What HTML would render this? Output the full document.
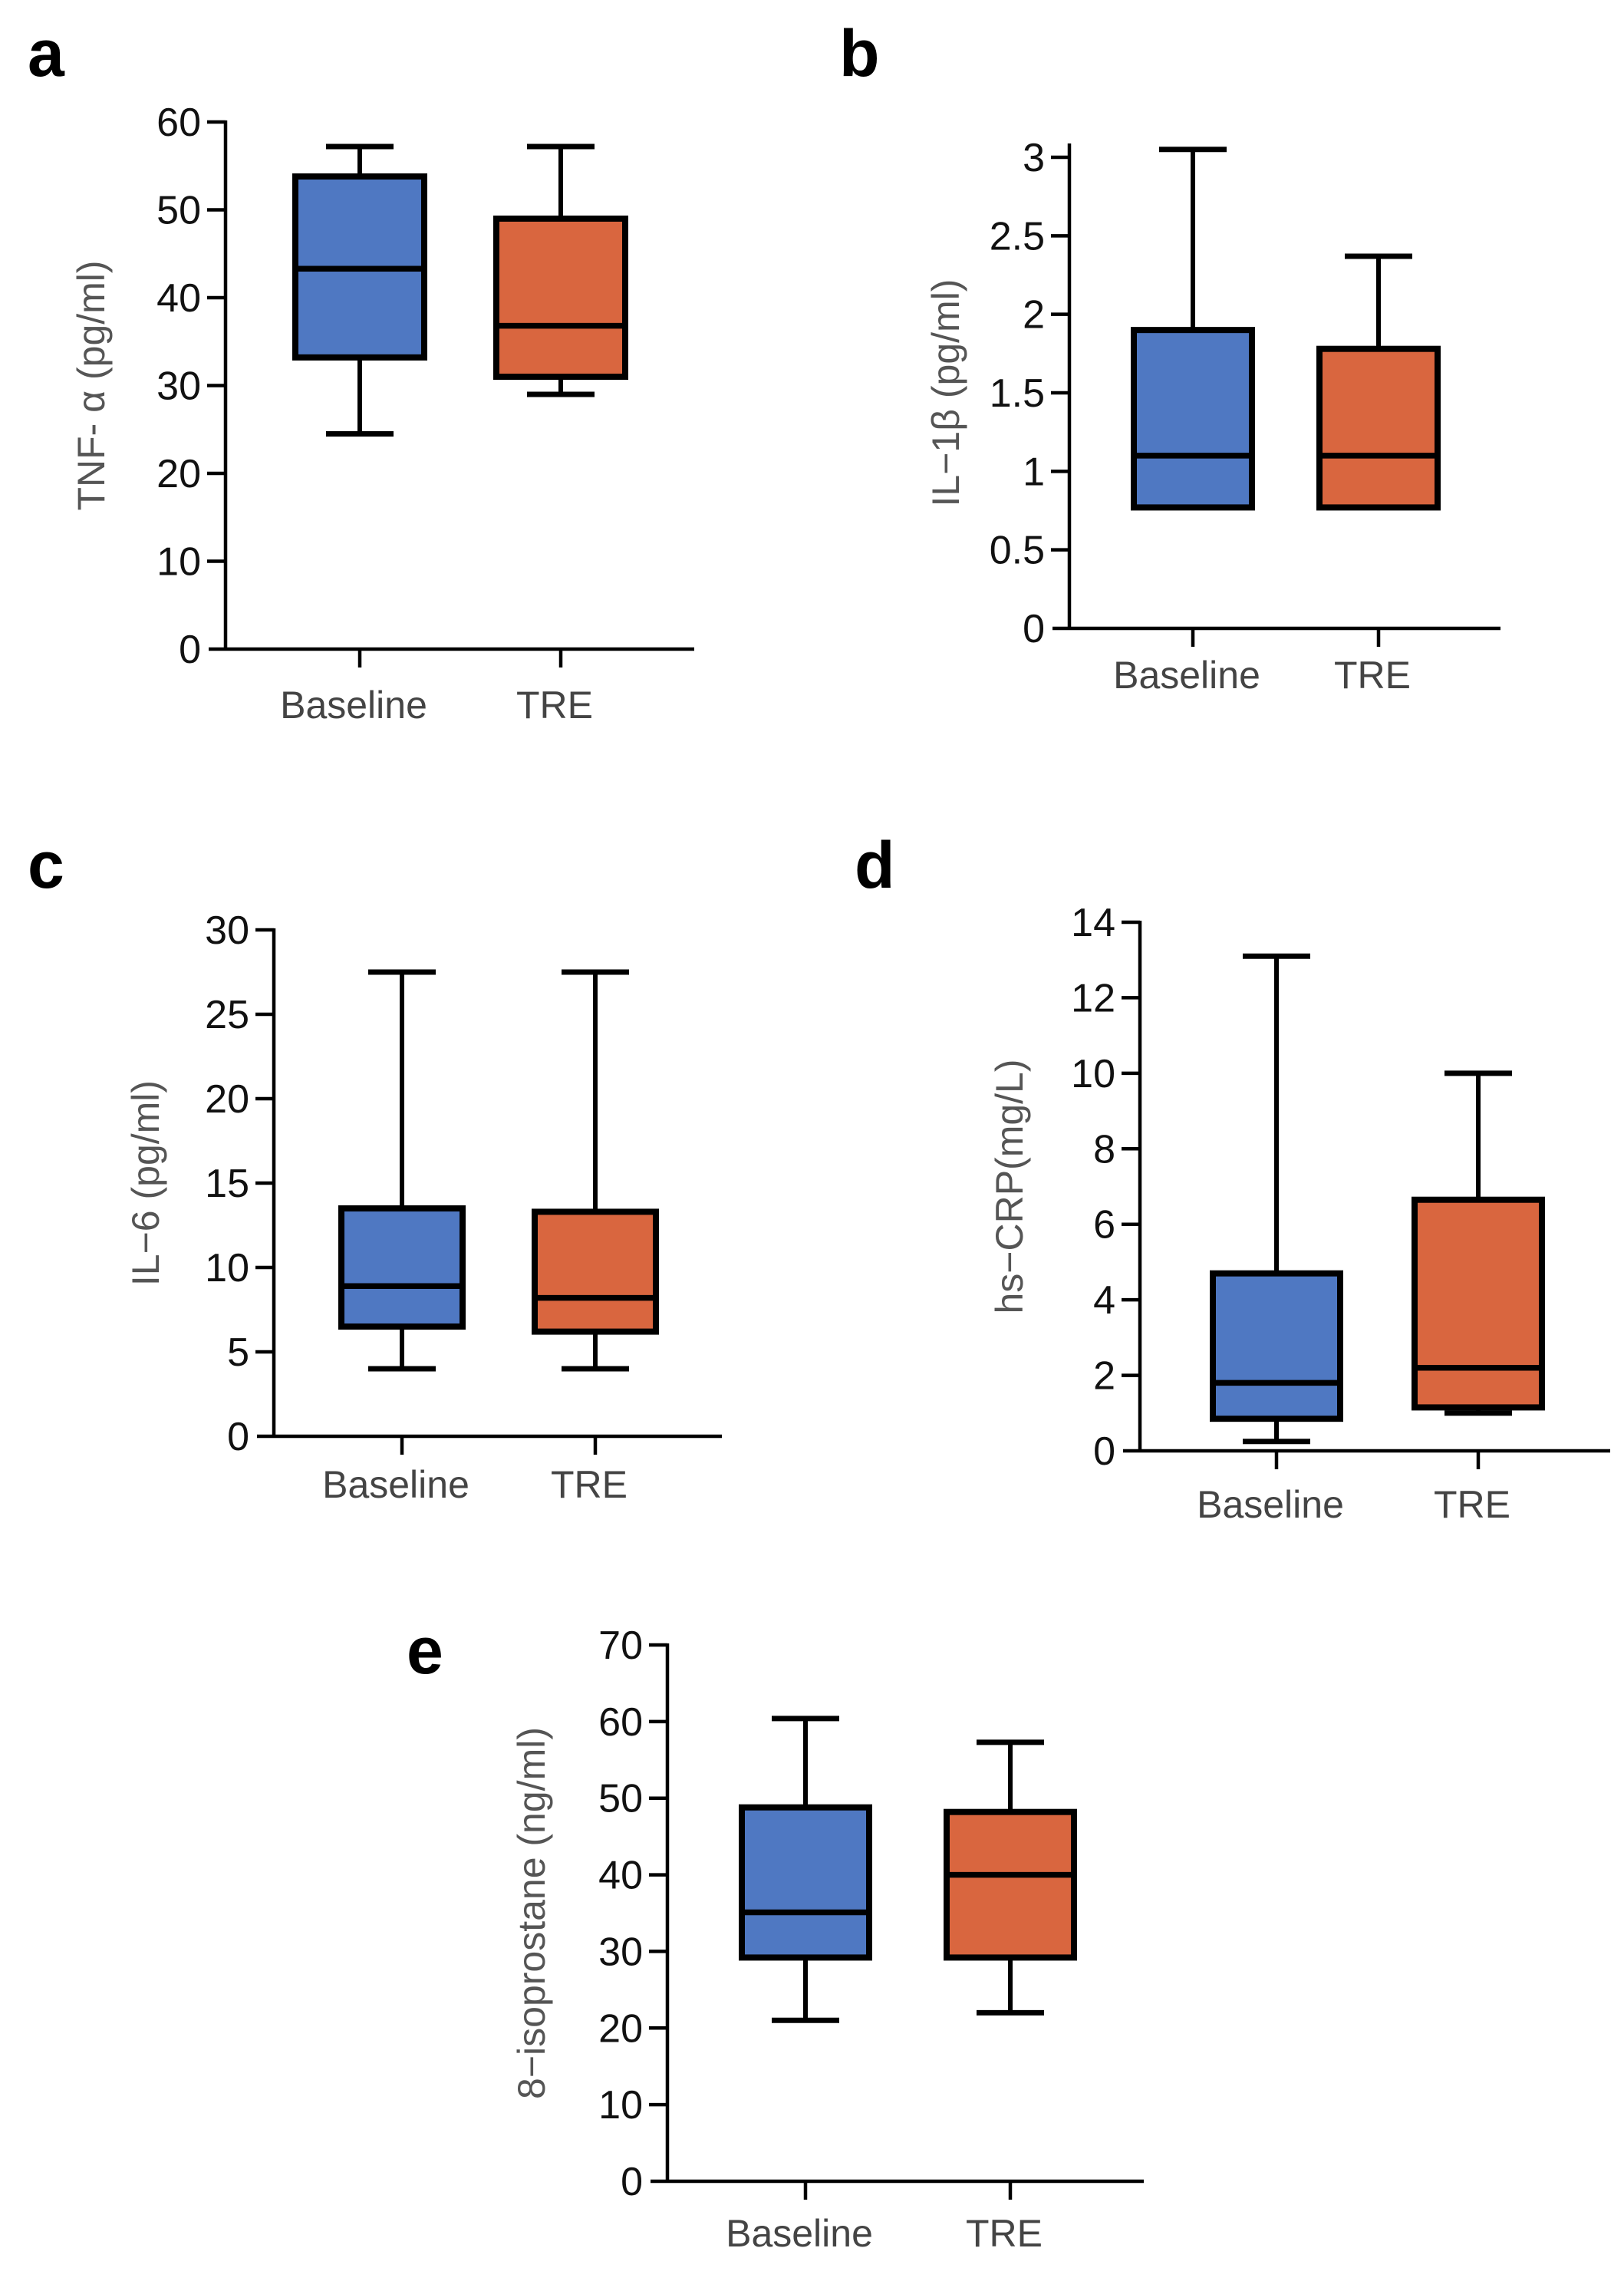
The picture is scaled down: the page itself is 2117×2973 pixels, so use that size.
<!DOCTYPE html>
<html><head><meta charset="utf-8"><style>
html,body{margin:0;padding:0;background:#fff;}
svg{display:block;}
.tick{font-family:"Liberation Sans",sans-serif;font-size:52px;fill:#111;}
.cat{font-family:"Liberation Sans",sans-serif;font-size:50px;fill:#444;}
.ttl{font-family:"Liberation Sans",sans-serif;font-size:50px;fill:#555;}
.letter{font-family:"Liberation Sans",sans-serif;font-size:86px;font-weight:bold;fill:#000;}
</style></head><body>
<svg id="fig" width="2117" height="2973" viewBox="0 0 2117 2973" xmlns="http://www.w3.org/2000/svg"></svg>
<script>
const categories = ["Baseline", "TRE"];
// [min, q1, median, q3, max]
const tnfBaseline = [24.5, 33.2, 43.3, 53.8, 57.2];
const tnfTRE = [29, 31, 36.8, 49, 57.2];
const tnfTicks = [0, 10, 20, 30, 40, 50, 60];
const il1bBaseline = [0.77, 0.77, 1.1, 1.9, 3.05];
const il1bTRE = [0.77, 0.77, 1.1, 1.78, 2.37];
const il1bTicks = [0, 0.5, 1, 1.5, 2, 2.5, 3];
const il6Baseline = [4, 6.5, 8.9, 13.5, 27.5];
const il6TRE = [4, 6.2, 8.2, 13.3, 27.5];
const il6Ticks = [0, 5, 10, 15, 20, 25, 30];
const crpBaseline = [0.25, 0.85, 1.8, 4.7, 13.1];
const crpTRE = [1.0, 1.15, 2.2, 6.65, 10.0];
const crpTicks = [0, 2, 4, 6, 8, 10, 12, 14];
const isoBaseline = [21, 29.2, 35.1, 48.8, 60.4];
const isoTRE = [22, 29.2, 40, 48.2, 57.3];
const isoTicks = [0, 10, 20, 30, 40, 50, 60, 70];

const NS = "http://www.w3.org/2000/svg";
const svg = document.getElementById("fig");
function mk(tag, attrs, parent) {
  const e = document.createElementNS(NS, tag);
  for (const k in attrs) e.setAttribute(k, attrs[k]);
  (parent || svg).appendChild(e);
  return e;
}
const COLORS = ["#4f78c2", "#d9663f"];

function panel(p) {
  const g = mk("g", {});
  
  
  const yMax = p.ticks[p.ticks.length - 1];
  const ys = v => p.y0 + (p.yTop - p.y0) * v / yMax;
  const L = mk("text", {x: p.lx, y: p.ly, class: "letter"}, g);
  L.textContent = p.letter;
  
  
  const ya = mk("line", {x1: p.ax, x2: p.ax, y1: p.axTop, y2: p.y0 + 2, stroke: "#000", "stroke-width": 4.5}, g);
  
  
  const xa = mk("line", {x1: p.ax - 22, x2: p.axEnd, y1: p.y0, y2: p.y0, stroke: "#000", "stroke-width": 4.5}, g);
  
  
  p.ticks.forEach(t => {
    const y = ys(t);
    if (t !== 0) {
      const tl = mk("line", {x1: p.ax - 24, x2: p.ax, y1: y, y2: y, stroke: "#000", "stroke-width": 4.5}, g);
      
      
    }
    const tx = mk("text", {x: p.ax - 32, y: y + 18, "text-anchor": "end", class: "tick"}, g);
    tx.textContent = String(t);
    
    
  });
  const cy = (p.y0 + p.yTop) / 2;
  const tt = mk("text", {x: p.tx, y: cy, "text-anchor": "middle", class: "ttl", transform: "rotate(-90 " + p.tx + " " + cy + ")", dy: "17"}, g);
  tt.textContent = p.title;
  
  
  p.series.forEach((s, i) => {
    const cx = p.cx[i];
    const hw = p.hw, cap = 44;
    const xt = mk("line", {x1: cx, x2: cx, y1: p.y0, y2: p.y0 + 24, stroke: "#000", "stroke-width": 4.5}, g);
    
    
    const cl = mk("text", {x: cx - 8, y: p.catY, "text-anchor": "middle", class: "cat"}, g);
    cl.textContent = categories[i];
    
    
    const bg = mk("g", {}, g);
    
    
    const [mn, q1, md, q3, mx] = s;
    mk("line", {x1: cx, x2: cx, y1: ys(mx), y2: ys(q3), stroke: "#000", "stroke-width": 6}, bg);
    mk("line", {x1: cx, x2: cx, y1: ys(q1), y2: ys(mn), stroke: "#000", "stroke-width": 6}, bg);
    mk("line", {x1: cx - cap, x2: cx + cap, y1: ys(mx), y2: ys(mx), stroke: "#000", "stroke-width": 7}, bg);
    mk("line", {x1: cx - cap, x2: cx + cap, y1: ys(mn), y2: ys(mn), stroke: "#000", "stroke-width": 7}, bg);
    mk("rect", {x: cx - hw, y: ys(q3), width: 2 * hw, height: ys(q1) - ys(q3), fill: COLORS[i], stroke: "#000", "stroke-width": 8}, bg);
    mk("line", {x1: cx - hw, x2: cx + hw, y1: ys(md), y2: ys(md), stroke: "#000", "stroke-width": 7.5}, bg);
  });
}

panel({letter: "a", lx: 36, ly: 99, ax: 294, axTop: 157, yTop: 159, y0: 846, axEnd: 905,
  ticks: tnfTicks, title: "TNF- \u03b1 (pg/ml)", tx: 119, cx: [469, 731], hw: 84, catY: 936,
  series: [tnfBaseline, tnfTRE]});
panel({letter: "b", lx: 1094, ly: 99, ax: 1394, axTop: 187, yTop: 205, y0: 819, axEnd: 1956,
  ticks: il1bTicks, title: "IL\u22121\u03b2  (pg/ml)", tx: 1233, cx: [1555, 1797], hw: 77, catY: 897,
  series: [il1bBaseline, il1bTRE]});
panel({letter: "c", lx: 36, ly: 1157, ax: 357, axTop: 1210, yTop: 1212, y0: 1872, axEnd: 941,
  ticks: il6Ticks, title: "IL\u22126 (pg/ml)", tx: 190, cx: [524, 776], hw: 79, catY: 1952,
  series: [il6Baseline, il6TRE]});
panel({letter: "d", lx: 1114, ly: 1157, ax: 1486, axTop: 1200, yTop: 1202, y0: 1891, axEnd: 2099,
  ticks: crpTicks, title: "hs\u2212CRP(mg/L)", tx: 1316, cx: [1664, 1927], hw: 83, catY: 1978,
  series: [crpBaseline, crpTRE]});
panel({letter: "e", lx: 530, ly: 2181, ax: 870, axTop: 2142, yTop: 2144, y0: 2843, axEnd: 1491,
  ticks: isoTicks, title: "8\u2212isoprostane (ng/ml)", tx: 693, cx: [1050, 1317], hw: 83, catY: 2928,
  series: [isoBaseline, isoTRE]});
</script>
</body></html>
